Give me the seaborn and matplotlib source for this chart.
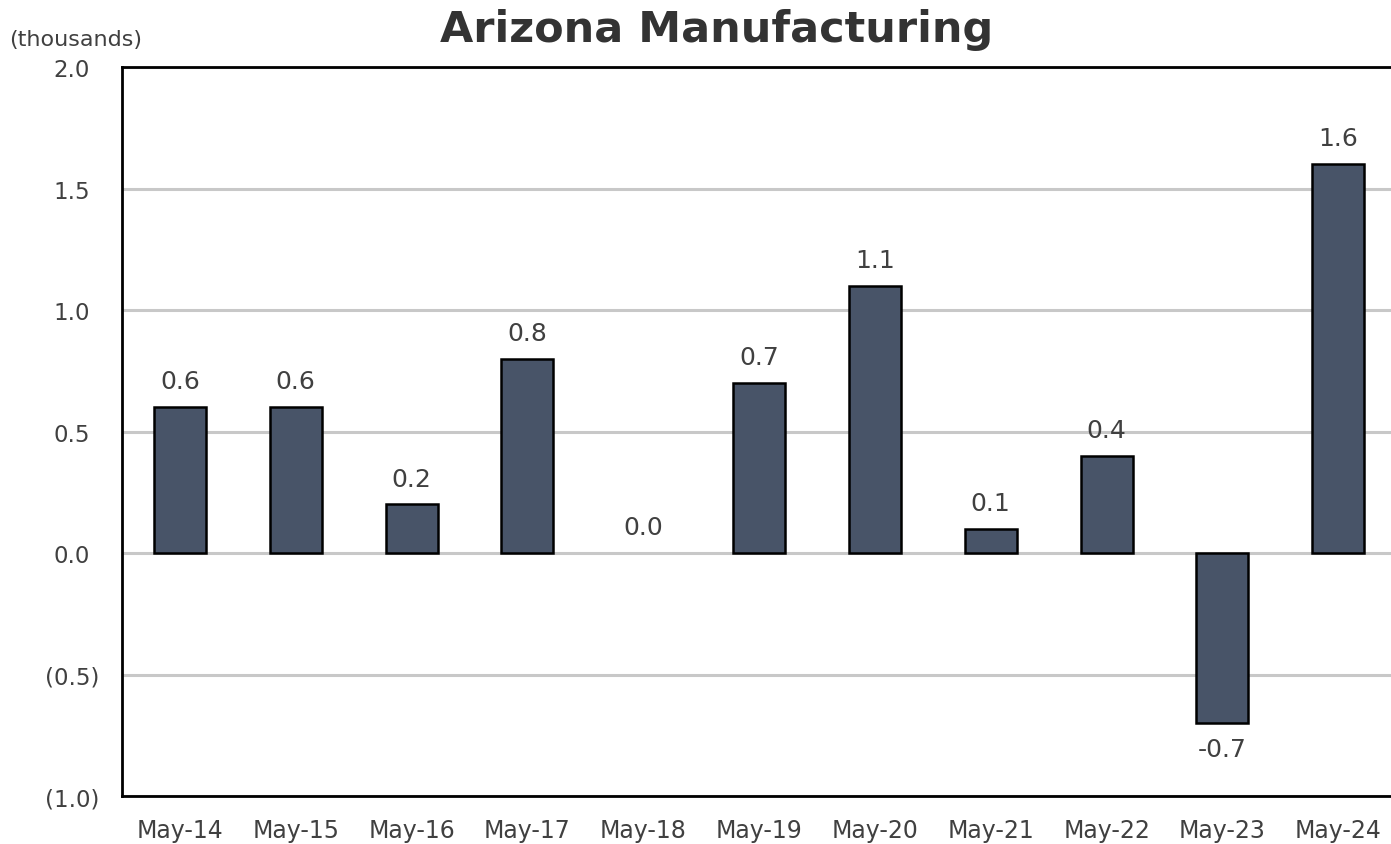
import matplotlib.pyplot as plt
import pandas as pd
import seaborn as sns

months = ['May-14', 'May-15', 'May-16', 'May-17', 'May-18', 'May-19',
          'May-20', 'May-21', 'May-22', 'May-23', 'May-24']
change = [0.6, 0.6, 0.2, 0.8, 0.0, 0.7, 1.1, 0.1, 0.4, -0.7, 1.6]
y_ticks = [-1.0, -0.5, 0.0, 0.5, 1.0, 1.5, 2.0]


def fmt_tick(v):
    return f'({abs(v):.1f})' if v < 0 else f'{v:.1f}'


def main():
    df = pd.DataFrame({'month': months, 'change': change})
    sns.set_style('white')
    plt.rcParams['font.family'] = ['DejaVu Sans']
    text_col = '#404040'

    fig = plt.figure(figsize=(13.91, 8.45), dpi=100)
    ax = fig.add_axes([0.0877, 0.0568, 0.916, 0.8627])
    sns.barplot(data=df, x='month', y='change', color='#485468',
                saturation=1, edgecolor='black', linewidth=1.8,
                width=0.45, ax=ax, zorder=3)
    for p in ax.patches:
        if p.get_height() == 0:
            p.set_edgecolor('none')
    ax.bar_label(ax.containers[0], fmt='%.1f', padding=10,
                 fontsize=18, color=text_col)

    ax.set_xlim(-0.5, 10.5)
    ax.set_ylim(-1.0, 2.0)
    ax.set_yticks(y_ticks)
    ax.set_yticklabels([fmt_tick(v) for v in y_ticks], ha='center')
    ax.tick_params(axis='y', length=0, pad=36, labelsize=16.5,
                   labelcolor=text_col)
    ax.tick_params(axis='x', length=0, pad=16, labelsize=17,
                   labelcolor=text_col)
    ax.yaxis.grid(True, color='#c8c8c8', linewidth=2.2, zorder=0)
    ax.set_axisbelow(True)
    for side in ['left', 'top', 'bottom', 'right']:
        ax.spines[side].set_color('black')
        ax.spines[side].set_linewidth(2)
    ax.set_xlabel('')
    ax.set_ylabel('')

    fig.text(0.5155, 0.965, 'Arizona Manufacturing', ha='center',
             va='center', fontsize=31, fontweight='bold', color='#333333')
    fig.text(0.0065, 0.953, '(thousands)', ha='left', va='center',
             fontsize=16, color=text_col)

    fig.savefig('out.png', dpi=100)
    plt.close(fig)


if __name__ == '__main__':
    main()
